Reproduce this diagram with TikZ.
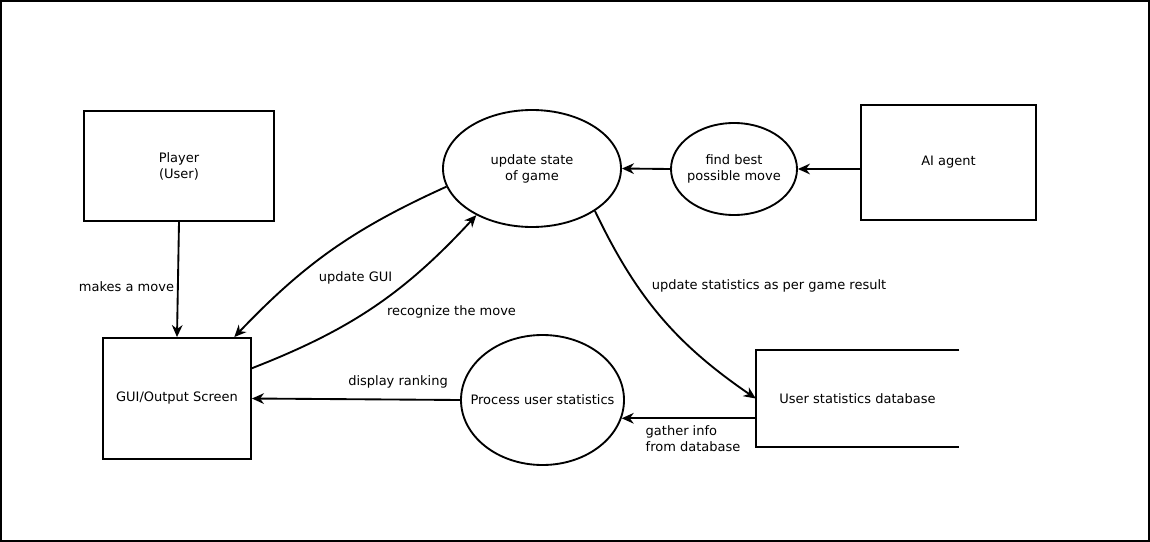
\documentclass[tikz,border=0pt]{standalone}
\usepackage{fontspec}
\setmainfont{DejaVu Sans}
\usetikzlibrary{arrows.meta, shapes.geometric}

\begin{document}
\begin{tikzpicture}[
    x=0.75pt, y=-0.75pt,
    every node/.style={
        font=\fontsize{9.75}{12}\selectfont,
        align=center
    },
    box/.style={draw, rectangle, line width=1.4pt},
    bubble/.style={draw, ellipse, line width=1.4pt, inner xsep=-12pt, inner ysep=0pt},
    arrow/.style={-{Stealth[length=9pt,width=8pt]}, line width=1.4pt}
]
    \useasboundingbox (0,0) rectangle (1150,542);
    \draw[line width=1.4pt] (1,1) rectangle (1149,541);

    \node (player) [box, minimum width=142.5pt, minimum height=82.5pt] at (179,166) {Player\\(User)};
    \node (gui) [box, minimum width=111pt, minimum height=90.75pt] at (177,398.5) {GUI/Output Screen};
    \node (update) [bubble, minimum width=133.5pt, minimum height=87.75pt] at (532,168.5) {update state\\of game};
    \node (findbest) [bubble, minimum width=94.5pt, minimum height=69pt] at (734,169) {find best\\possible move};
    \node (agent) [box, minimum width=131.25pt, minimum height=86.25pt] at (948.5,162.5) {AI agent};
    \node (process) [bubble, minimum width=122.25pt, minimum height=97.5pt] at (542.5,400) {Process user statistics};
    \node (database) [minimum width=152.25pt, minimum height=72.75pt] at (857.5,398.5) {User statistics database};
    \draw[line width=1.4pt] (database.north east) -- (database.north west) -- (database.south west) -- (database.south east);

    \draw[arrow] (player.south) -- (gui.north);
    \draw[arrow] (findbest.west) -- (update.east);
    \draw[arrow] (agent.west |- findbest.east) -- (findbest.east);
    \draw[arrow] (update.192) to[bend right=11] (gui.47);
    \draw[arrow] (gui.22) to[bend right=13] (update.220);
    \draw[arrow] (update.326) to[bend right=15] (database.west);
    \draw[arrow] (database.west |- process.-13) -- (process.-13);
    \draw[arrow] (process.west) -- (gui.east);

    \node (makes) at (126.5,287) {makes a move};
    \node (updgui) at (355.5,278) {update GUI};
    \node (recognize) at (451.5,312) {recognize the move};
    \node (updstats) at (769,286) {update statistics as per game result};
    \node (ranking) at (398,382) {display ranking};
    \node (gather) [align=left, anchor=west] at (641,439) {gather info\\from database};

\end{tikzpicture}
\end{document}
